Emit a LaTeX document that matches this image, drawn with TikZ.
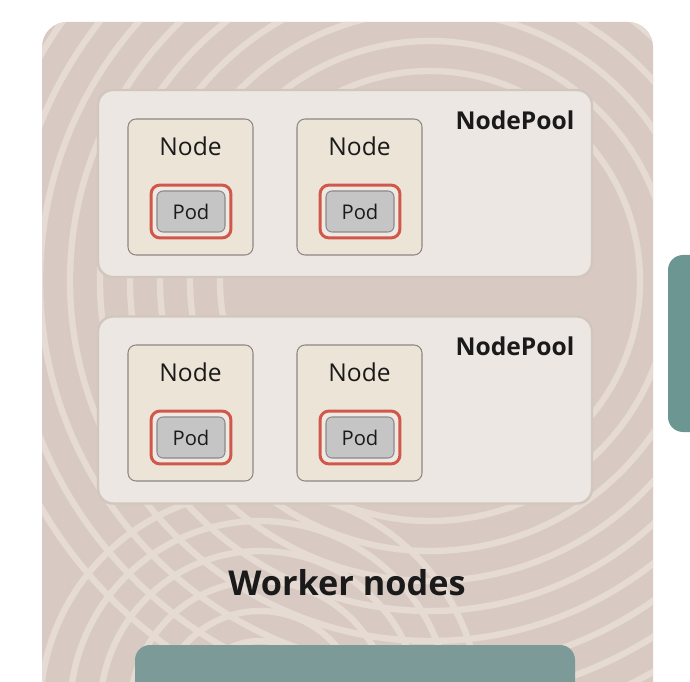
\documentclass[tikz,border=0pt]{standalone}
\usepackage{fontspec}
\setmainfont{Open Sans}
\usetikzlibrary{calc,fit}
\definecolor{panelfill}{RGB}{216,202,195}
\definecolor{swirl}{RGB}{229,219,211}
\definecolor{poolfill}{RGB}{236,231,226}
\definecolor{poolline}{RGB}{210,199,190}
\definecolor{nodefill}{RGB}{236,228,214}
\definecolor{nodeline}{RGB}{140,135,131}
\definecolor{podfill}{RGB}{197,197,197}
\definecolor{podline}{RGB}{138,138,138}
\definecolor{podred}{RGB}{208,88,74}
\definecolor{podgap}{RGB}{240,232,226}
\definecolor{tealA}{RGB}{107,150,145}
\definecolor{tealB}{RGB}{124,154,152}
\definecolor{inktext}{RGB}{26,26,26}
\tikzset{
    poolbox/.style={
        draw=poolline, fill=poolfill, line width=1.4pt, rounded corners=0.3cm,
        minimum width=9.88cm, minimum height=3.74cm
    },
    poollab/.style={
        text=inktext, font=\fontsize{14}{17}\selectfont\bfseries
    },
    nodebox/.style={
        draw=nodeline, fill=nodefill, line width=0.6pt, rounded corners=0.16cm,
        minimum width=2.5cm, minimum height=2.72cm
    },
    nodelab/.style={
        text=inktext, font=\fontsize{14}{17}\selectfont
    },
    podbox/.style={
        draw=podline, fill=podfill, line width=0.6pt, rounded corners=0.12cm,
        minimum width=1.36cm, minimum height=0.82cm,
        text=inktext, font=\fontsize{11.5}{14}\selectfont
    },
    podring/.style={
        draw=podred, fill=podgap, line width=1.7pt, rounded corners=0.18cm,
        inner sep=3.1pt
    }
}

\begin{document}
\begin{tikzpicture}[line cap=round,line join=round]

% --- frame ---
    \clip (0,0) rectangle (13.8,13.62);
    \fill[white] (0,0) rectangle (13.8,13.62);

% worker panel with swirl texture
    \fill[panelfill, rounded corners=0.5cm] (0.84,-1) rectangle (13.06,13.18);
    \begin{scope}
      \clip[rounded corners=0.5cm] (0.84,-1) rectangle (13.06,13.18);
      \foreach \r in {4.2,4.8,...,9.6}
        \draw[swirl, line width=3.6pt] (8.6,8.0) circle (\r);
      \foreach \r in {0.8,1.4,...,4.4}
        \draw[swirl, line width=3.6pt] (5.2,-0.6) circle (\r);
    \end{scope}

% neighbouring panels (cut off)
    \fill[tealA, rounded corners=0.3cm] (13.36,4.98) rectangle (14.6,8.52);
    \fill[tealB, rounded corners=0.3cm] (2.7,-1) rectangle (11.5,0.72);

% node pools
    \node[poolbox] (pool1) at (6.9,9.95) {};
    \node[poolbox] (pool2) at (6.9,5.42) {};
    \node[poollab] (pool1lab) at (10.3,11.22) {NodePool};
    \node[poollab] (pool2lab) at (10.3,6.70) {NodePool};

% nodes with their pods
    \foreach \row/\y in {1/9.88,2/5.36}{
      \foreach \col/\x in {1/3.81,2/7.19}{
        \node[nodebox] (n\row\col) at (\x,\y) {};
        \node[nodelab] (n\row\col lab) at ($(n\row\col)+(0,0.82)$) {Node};
        \node[podbox] (p\row\col) at ($(n\row\col)+(0.01,-0.49)$) {};
        \node[podring, fit=(p\row\col)] (r\row\col) {};
        \node[podbox] (p\row\col) at ($(n\row\col)+(0.01,-0.49)$) {Pod};
      }
    }

% panel title
    \node[text=inktext, font=\fontsize{19.5}{23}\selectfont\bfseries] (title) at (6.94,1.96) {Worker nodes};

  \end{tikzpicture}
\end{document}
